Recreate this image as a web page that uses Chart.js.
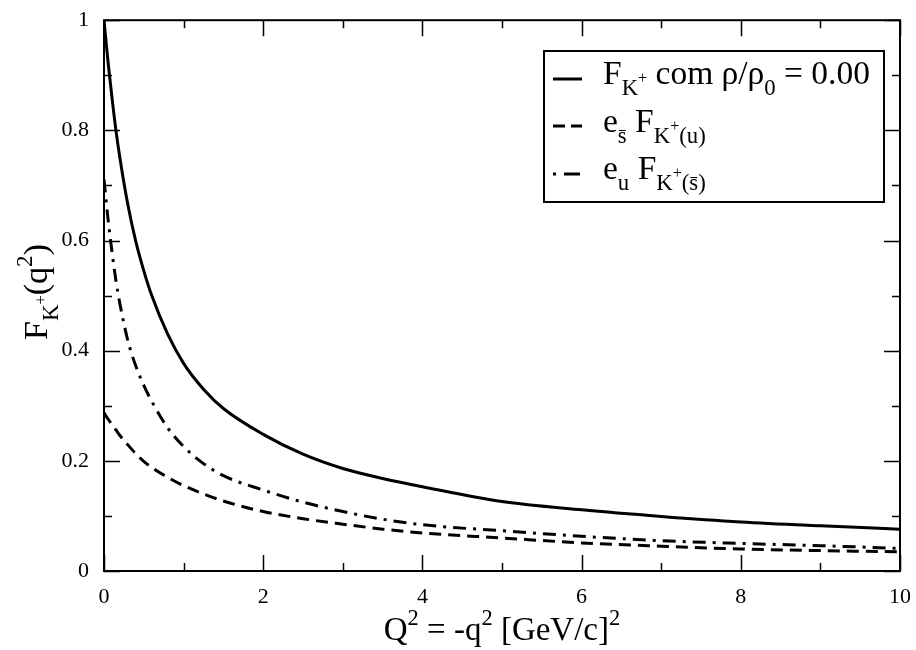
<!DOCTYPE html>
<html>
<head>
<meta charset="utf-8">
<script src="https://cdn.jsdelivr.net/npm/chart.js@4.4.1/dist/chart.umd.min.js"></script>
<style>
    html, body { margin: 0; padding: 0; background: #fff; }
    #wrap { width: 916px; height: 650px; }
</style>
</head>
<body>
<div id="wrap"><canvas id="myChart" width="916" height="650"></canvas></div>
<script>
// Q^2 values (GeV/c)^2
const qValues = [0, 0.05, 0.1, 0.15, 0.2, 0.3, 0.4, 0.5, 0.6, 0.8, 1.0, 1.25, 1.5, 2, 2.5, 3, 3.5, 4, 5, 6, 7, 8, 9, 10];
// full form factor, rho/rho0 = 0.00 (solid)
const fTotal = [1.0, 0.925, 0.86, 0.80, 0.75, 0.665, 0.598, 0.545, 0.5, 0.43, 0.377, 0.33, 0.295, 0.248, 0.212, 0.186, 0.168, 0.153, 0.126, 0.111, 0.099, 0.089, 0.082, 0.076];
// e_sbar F_K+(u) (dashed)
const fSbar = [0.287, 0.276, 0.266, 0.256, 0.246, 0.229, 0.213, 0.199, 0.188, 0.17, 0.155, 0.14, 0.127, 0.108, 0.095, 0.085, 0.076, 0.069, 0.060, 0.051, 0.045, 0.040, 0.037, 0.035];
// e_u F_K+(sbar) (dash-dot)
const fU = [0.711, 0.64, 0.58, 0.527, 0.485, 0.418, 0.372, 0.337, 0.308, 0.26, 0.226, 0.195, 0.173, 0.147, 0.125, 0.108, 0.094, 0.084, 0.073, 0.063, 0.055, 0.050, 0.046, 0.041];

const xMajorTicks = [0, 2, 4, 6, 8, 10];
const xMinorTicks = [1, 3, 5, 7, 9];
const yMajorTicks = [0, 0.2, 0.4, 0.6, 0.8, 1];
const yMinorTicks = [0.1, 0.3, 0.5, 0.7, 0.9];

const SERIF = '"Liberation Serif", "Times New Roman", serif';

function pts(ys) {
    return qValues.map((q, i) => ({ x: q, y: ys[i] }));
}

// rich text: parts are {t, m} with m = n | sub | sup | subsup, optional bar
function partSize(p, size) {
    if (p.m === 'sub' || p.m === 'sup') return size * 0.68;
    if (p.m === 'subsup') return size * 0.48;
    return size;
}

function drawRich(ctx, x, y, parts, size) {
    let cx = x;
    parts.forEach(p => {
        const s = partSize(p, size);
        let dy = 0;
        if (p.m === 'sub') dy = size * 0.33;
        if (p.m === 'sup') dy = -size * 0.45;
        if (p.m === 'subsup') dy = -size * 0.02;
        ctx.font = s + 'px ' + SERIF;
        ctx.fillText(p.t, cx, y + dy);
        const w = ctx.measureText(p.t).width;
        if (p.bar) {
            ctx.lineWidth = 1;
            ctx.beginPath();
            ctx.moveTo(cx + 1, y + dy - s * 0.55);
            ctx.lineTo(cx + w - 1, y + dy - s * 0.55);
            ctx.stroke();
        }
        cx += w;
    });
    return cx - x;
}

function richWidth(ctx, parts, size) {
    let w = 0;
    parts.forEach(p => {
        ctx.font = partSize(p, size) + 'px ' + SERIF;
        w += ctx.measureText(p.t).width;
    });
    return w;
}

const legendRows = [
    { dash: [], parts: [{ t: 'F' }, { t: 'K', m: 'sub' }, { t: '+', m: 'subsup' }, { t: ' com ρ/ρ' }, { t: '0', m: 'sub' }, { t: ' = 0.00' }] },
    { dash: [12, 6], parts: [{ t: 'e' }, { t: 's', m: 'sub', bar: true }, { t: ' F' }, { t: 'K', m: 'sub' }, { t: '+', m: 'subsup' }, { t: '(u)', m: 'sub' }] },
    { dash: [3, 8, 16, 7], parts: [{ t: 'e' }, { t: 'u', m: 'sub' }, { t: ' F' }, { t: 'K', m: 'sub' }, { t: '+', m: 'subsup' }, { t: '(', m: 'sub' }, { t: 's', m: 'sub', bar: true }, { t: ')', m: 'sub' }] }
];

const framePlugin = {
    id: 'frame',
    afterDraw(chart) {
        const ctx = chart.ctx;
        const a = chart.chartArea;
        const xs = chart.scales.x, ys = chart.scales.y;
        ctx.save();
        ctx.strokeStyle = '#000';
        ctx.fillStyle = '#000';
        ctx.lineWidth = 2;
        ctx.strokeRect(a.left, a.top, a.right - a.left, a.bottom - a.top);

        ctx.lineWidth = 1.5;
        const tick = (vals, len) => {
            vals.forEach(v => {
                const px = Math.round(xs.getPixelForValue(v)) + 0.5;
                ctx.beginPath();
                ctx.moveTo(px, a.bottom); ctx.lineTo(px, a.bottom - len);
                ctx.moveTo(px, a.top); ctx.lineTo(px, a.top + len);
                ctx.stroke();
            });
        };
        const ytick = (vals, len) => {
            vals.forEach(v => {
                const py = Math.round(ys.getPixelForValue(v)) + 0.5;
                ctx.beginPath();
                ctx.moveTo(a.left, py); ctx.lineTo(a.left + len, py);
                ctx.moveTo(a.right, py); ctx.lineTo(a.right - len, py);
                ctx.stroke();
            });
        };
        tick(xMajorTicks, 16);
        tick(xMinorTicks, 8);
        ytick(yMajorTicks, 16);
        ytick(yMinorTicks, 8);

        // axis titles
        ctx.textBaseline = 'alphabetic';
        ctx.textAlign = 'left';
        const xt = [{ t: 'Q' }, { t: '2', m: 'sup' }, { t: ' = -q' }, { t: '2', m: 'sup' }, { t: ' [GeV/c]' }, { t: '2', m: 'sup' }];
        const xw = richWidth(ctx, xt, 33);
        drawRich(ctx, (a.left + a.right) / 2 - xw / 2, 640, xt, 33);

        const yt = [{ t: 'F' }, { t: 'K', m: 'sub' }, { t: '+', m: 'subsup' }, { t: '(q' }, { t: '2', m: 'sup' }, { t: ')' }];
        const yw = richWidth(ctx, yt, 34);
        ctx.save();
        ctx.translate(47, 292);
        ctx.rotate(-Math.PI / 2);
        drawRich(ctx, -yw / 2, 0, yt, 34);
        ctx.restore();

        // legend box
        ctx.fillStyle = '#fff';
        ctx.fillRect(544, 51, 340, 151);
        ctx.strokeStyle = '#000';
        ctx.lineWidth = 2;
        ctx.strokeRect(544, 51, 340, 151);
        ctx.fillStyle = '#000';
        const lineY = [79, 126, 174];
        const textY = [84, 132, 179];
        legendRows.forEach((r, i) => {
            ctx.lineWidth = 3;
            ctx.setLineDash(r.dash);
            ctx.beginPath();
            ctx.moveTo(553, lineY[i]);
            ctx.lineTo(582, lineY[i]);
            ctx.stroke();
            ctx.setLineDash([]);
            drawRich(ctx, 603, textY[i], r.parts, 33.5);
        });
        ctx.restore();
    }
};

const ctx = document.getElementById('myChart');

const myChart = new Chart(ctx, {
    type: 'line',
    data: {
        datasets: [{
            label: 'F_K+ com rho/rho0 = 0.00',
            data: pts(fTotal),
            borderColor: '#000',
            borderWidth: 3,
            pointRadius: 0,
            cubicInterpolationMode: 'monotone'
        }, {
            label: 'e_sbar F_K+(u)',
            data: pts(fSbar),
            borderColor: '#000',
            borderWidth: 3,
            borderDash: [12, 7],
            pointRadius: 0,
            cubicInterpolationMode: 'monotone'
        }, {
            label: 'e_u F_K+(sbar)',
            data: pts(fU),
            borderColor: '#000',
            borderWidth: 3,
            borderDash: [13, 7, 3, 7],
            pointRadius: 0,
            cubicInterpolationMode: 'monotone'
        }]
    },
    options: {
        responsive: false,
        animation: false,
        layout: {
            padding: { top: 10, right: 11, left: 0, bottom: 0 }
        },
        scales: {
            x: {
                type: 'linear',
                min: 0,
                max: 10,
                afterBuildTicks: s => { s.ticks = xMajorTicks.map(v => ({ value: v })); },
                afterFit: s => { s.height = 79; },
                grid: { display: false },
                border: { display: false },
                ticks: {
                    color: '#000',
                    padding: 5,
                    maxRotation: 0,
                    font: { family: SERIF, size: 22 },
                    callback: v => String(v)
                }
            },
            y: {
                min: 0,
                max: 1,
                afterBuildTicks: s => { s.ticks = yMajorTicks.map(v => ({ value: v })); },
                afterFit: s => { s.width = 104; },
                grid: { display: false },
                border: { display: false },
                ticks: {
                    color: '#000',
                    padding: 7,
                    font: { family: SERIF, size: 22 },
                    callback: v => String(Math.round(v * 10) / 10)
                }
            }
        },
        plugins: {
            legend: { display: false },
            tooltip: { enabled: false }
        }
    },
    plugins: [framePlugin]
});
</script>
</body>
</html>
